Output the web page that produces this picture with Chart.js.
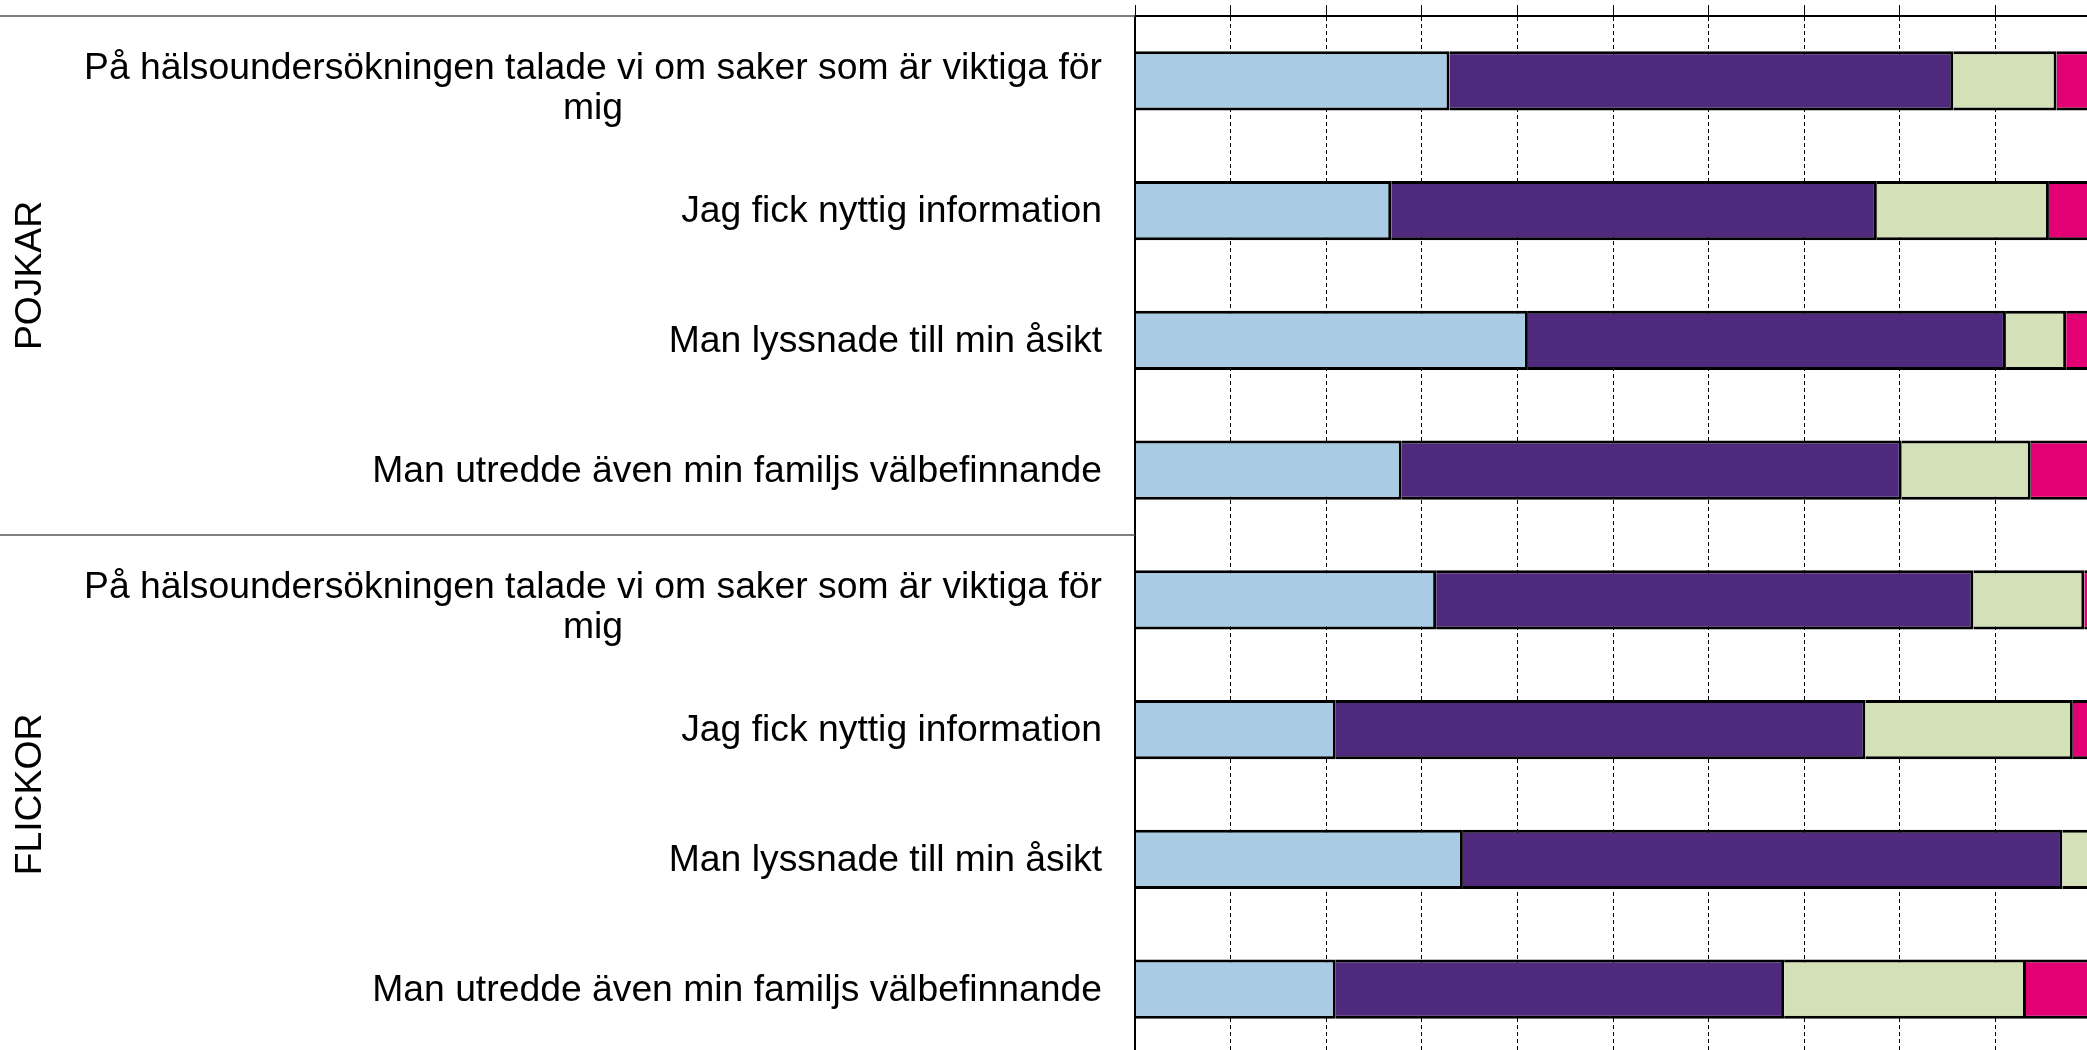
<!DOCTYPE html>
<html><head><meta charset="utf-8">
<script src="https://cdn.jsdelivr.net/npm/chart.js@4/dist/chart.umd.min.js"></script>
<style>
html,body{margin:0;padding:0;overflow:hidden;background:#fff;width:2087px;height:1050px}
#wrap{position:absolute;left:0;top:0;width:2092px;height:1055px}
</style></head><body>
<div id="wrap"><canvas id="c"></canvas></div>
<script>
// ---- data ----
const categories = [
  ["På hälsoundersökningen talade vi om saker som är viktiga för", "mig"],
  "Jag fick nyttig information",
  "Man lyssnade till min åsikt",
  "Man utredde även min familjs välbefinnande",
  ["På hälsoundersökningen talade vi om saker som är viktiga för", "mig"],
  "Jag fick nyttig information",
  "Man lyssnade till min åsikt",
  "Man utredde även min familjs välbefinnande"
];
const groups = ["POJKAR", "FLICKOR"];
const groupSizes = [4, 4];
const seriesNames = ["Helt av samma åsikt", "Delvis av samma åsikt", "Delvis av annan åsikt", "Helt av annan åsikt"];
const serie1 = [32.9, 26.8, 41.1, 27.9, 31.5, 21.0, 34.3, 21.0];
const serie2 = [52.7, 50.8, 50.0, 52.3, 56.2, 55.4, 62.7, 46.9];
const serie3 = [10.8, 18.0, 6.3, 13.5, 11.6, 21.7, 3.0, 25.3];
const serie4 = [3.6, 4.4, 2.6, 6.3, 0.7, 1.9, 0, 6.8];
const xTicks = [0, 10, 20, 30, 40, 50, 60, 70, 80, 90, 100];

const colors = ["#A9CCE4", "#4E297C", "#D3E0B8", "#E20074"];
const FONT = '"Liberation Sans", Arial, sans-serif';
Chart.defaults.font.family = FONT;

const labelPlugin = {
  id: 'sideLabels',
  afterDraw(chart) {
    const {ctx, chartArea, scales: {y}} = chart;
    ctx.save();
    ctx.font = '37.3px ' + FONT;
    ctx.fillStyle = '#000';
    ctx.textBaseline = 'middle';
    ctx.textAlign = 'center';
    const rightX = y.right - 33;
    const lh = 40;
    categories.forEach((lab, i) => {
      const lines = Array.isArray(lab) ? lab : [lab];
      const w = Math.max(...lines.map(l => ctx.measureText(l).width));
      const cy = y.getPixelForValue(i) + 1.5 + (lines.length > 1 ? 6.5 : 0);
      const y0 = cy - (lines.length - 1) * lh / 2;
      lines.forEach((l, k) => ctx.fillText(l, rightX - w / 2, y0 + k * lh));
    });
    const bounds = [chartArea.top];
    let idx = 0;
    groupSizes.forEach(n => {
      idx += n;
      bounds.push(idx < categories.length
        ? (y.getPixelForValue(idx - 1) + y.getPixelForValue(idx)) / 2
        : chartArea.bottom);
    });
    ctx.strokeStyle = '#555';
    ctx.lineWidth = 1.5;
    bounds.forEach(b => {
      ctx.beginPath(); ctx.moveTo(0, b); ctx.lineTo(chartArea.left, b); ctx.stroke();
    });
    groups.forEach((g, gi) => {
      const cy = (bounds[gi] + bounds[gi + 1]) / 2;
      ctx.save();
      ctx.translate(31, cy);
      ctx.rotate(-Math.PI / 2);
      ctx.fillText(g, 0, 0);
      ctx.restore();
    });
    ctx.restore();
  }
};

const series = [serie1, serie2, serie3, serie4];
new Chart(document.getElementById('c'), {
  type: 'bar',
  data: {
    labels: categories,
    datasets: series.map((d, i) => ({
      label: seriesNames[i],
      data: d,
      backgroundColor: colors[i],
      borderColor: '#000',
      borderWidth: 3,
      barPercentage: 0.455,
      categoryPercentage: 1.0
    }))
  },
  options: {
    indexAxis: 'y',
    responsive: true,
    maintainAspectRatio: false,
    animation: false,
    layout: { padding: { top: 5, right: 1, bottom: 1, left: 0 } },
    plugins: { legend: { display: false }, tooltip: { enabled: false } },
    scales: {
      x: {
        position: 'top',
        stacked: true,
        min: 0, max: 100,
        afterBuildTicks(scale) { scale.ticks = xTicks.map(v => ({ value: v })); },
        ticks: { display: false },
        grid: { color: '#000', lineWidth: 1, tickLength: 11, tickColor: '#000', tickWidth: 1, tickBorderDash: [] },
        border: { display: true, color: '#000', width: 2, dash: [4, 3] }
      },
      y: {
        stacked: true,
        afterFit(scale) { scale.width = 1135; },
        ticks: { display: false },
        grid: { display: false },
        border: { display: true, color: '#000', width: 2, z: 1 }
      }
    }
  },
  plugins: [labelPlugin]
});
</script>
</body></html>
